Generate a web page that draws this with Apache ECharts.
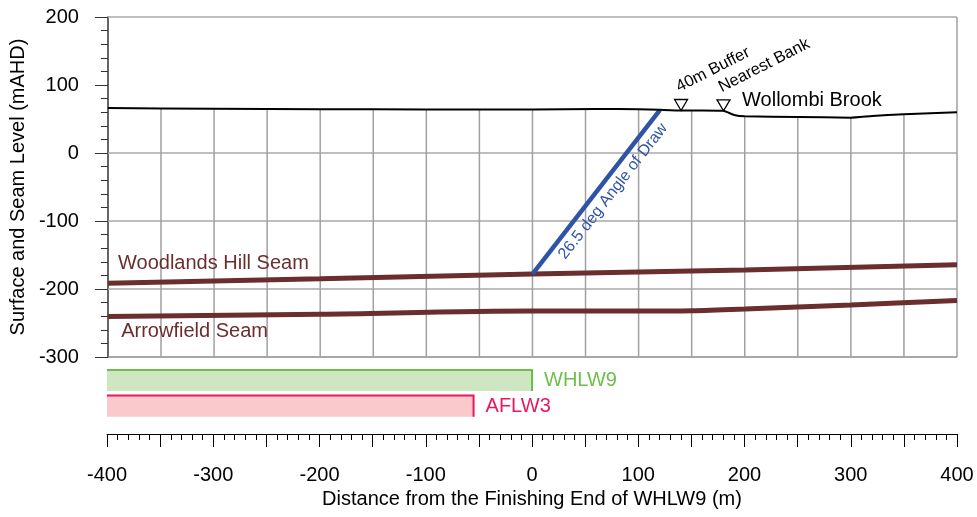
<!DOCTYPE html>
<html><head><meta charset="utf-8">
<script src="https://cdn.jsdelivr.net/npm/echarts@6/dist/echarts.min.js"></script>
<style>html,body{margin:0;padding:0;background:#fff}#c{width:977px;height:517px}</style>
</head><body><div id="c"></div>
<script>
// ---- data ----
const surfaceX = [-400, -300, -200, -100, 0, 60, 100, 120, 140, 160, 180, 190, 200, 250, 300, 320, 350, 400];
const surfaceY = [66, 65, 64.5, 64, 64, 64.8, 64.5, 63.5, 62.5, 62.5, 62, 56, 54, 53, 52, 54.5, 57, 60];
const woodlandsX = [-400, -200, 0, 200, 400];
const woodlandsY = [-191.5, -185, -178, -172, -164.5];
const arrowfieldX = [-400, -200, 0, 100, 150, 200, 300, 400];
const arrowfieldY = [-240.5, -237, -232.5, -232.5, -232, -229.5, -223.5, -217];
const drawLineX = [0, 120];
const drawLineY = [-178, 63];
const markerX = [140, 180];
const markerY = [62.5, 62];
const markerNames = ['40m Buffer', 'Nearest Bank'];
const panelNames = ['WHLW9', 'AFLW3'];
const panelStart = [-400, -400];
const panelEnd = [0, -55];
const gridLinesY = [200, 0, -100, -200, -300];
const gridLinesX = [-350, -300, -250, -200, -150, -100, -50, 0, 50, 100, 150, 200, 250, 300, 350];
const annoText = ['Woodlands Hill Seam', 'Arrowfield Seam', 'Wollombi Brook'];
const annoX = [-390.5, -387.5, 197.5];
const annoY = [-162, -263, 76.5];
const drawLabel = '26.5 deg Angle of Draw';

// ---- helpers ----
const zip = (a, b) => a.map((v, i) => [v, b[i]]);
function surfaceAt(x) {
  for (let i = 0; i < surfaceX.length - 1; i++) {
    if (x >= surfaceX[i] && x <= surfaceX[i + 1]) {
      const t = (x - surfaceX[i]) / (surfaceX[i + 1] - surfaceX[i]);
      return surfaceY[i] + t * (surfaceY[i + 1] - surfaceY[i]);
    }
  }
  return surfaceY[surfaceY.length - 1];
}
const FONT = "'Liberation Sans', Arial, sans-serif";
const SEAM = '#6b2e2e';
const BLUE = '#2f54a5';
const panelStroke = ['#6cbf4a', '#e8185e'];
const panelFill = ['#cfe6c3', '#f9c9cc'];

const chart = echarts.init(document.getElementById('c'), null, {renderer: 'canvas'});
const option = {
  animation: false,
  backgroundColor: '#fff',
  grid: [
    {left: 107, top: 17, width: 850, height: 340},
    {left: 107, top: 367.6, width: 850, height: 66.4}
  ],
  xAxis: [
    {gridIndex: 0, type: 'value', min: -400, max: 400, show: false, axisLine: {onZero: false}},
    {gridIndex: 1, type: 'value', min: -400, max: 400, interval: 50, position: 'bottom',
      axisLine: {show: true, onZero: false, lineStyle: {color: '#000', width: 1}},
      axisTick: {show: true, length: 13, lineStyle: {color: '#000', width: 1}},
      minorTick: {show: true, splitNumber: 5, length: 6, lineStyle: {color: '#000', width: 1}},
      splitLine: {show: false},
      axisLabel: {margin: 31, fontSize: 20, color: '#000', fontFamily: FONT,
        formatter: v => (v % 100 === 0 ? String(v) : '')},
      name: 'Distance from the Finishing End of WHLW9 (m)', nameLocation: 'middle', nameGap: 55,
      nameTextStyle: {fontSize: 20, color: '#000', fontFamily: FONT}
    }
  ],
  yAxis: [
    {gridIndex: 0, type: 'value', min: -300, max: 200, interval: 100,
      axisLine: {show: true, onZero: false, lineStyle: {color: '#333', width: 1.5}},
      axisTick: {show: true, length: 13, lineStyle: {color: '#333', width: 1}},
      minorTick: {show: true, splitNumber: 5, length: 7, lineStyle: {color: '#333', width: 1}},
      splitLine: {show: false},
      axisLabel: {margin: 29, fontSize: 20, color: '#000', fontFamily: FONT},
      name: 'Surface and Seam Level (mAHD)', nameLocation: 'middle', nameGap: 78,
      nameTextStyle: {fontSize: 20, color: '#000', fontFamily: FONT}
    },
    {gridIndex: 1, type: 'value', min: -0.5, max: 2.084, inverse: true, show: false, axisLine: {onZero: false}}
  ],
  series: [
    { // horizontal grid lines
      type: 'custom', xAxisIndex: 0, yAxisIndex: 0, z: 1, silent: true,
      data: gridLinesY.map(y => [y]),
      renderItem(params, api) {
        const y = api.value(0);
        const a = api.coord([-400, y]), b = api.coord([400, y]);
        return {type: 'line', shape: {x1: a[0], y1: a[1], x2: b[0], y2: b[1]},
          style: {stroke: y === -300 ? '#8a8a8a' : '#a8a8a8', lineWidth: 1.5}};
      }
    },
    { // vertical grid lines from surface down, plus right border
      type: 'custom', xAxisIndex: 0, yAxisIndex: 0, z: 1, silent: true,
      data: gridLinesX.map(x => [x, surfaceAt(x)]).concat([[400, 200]]),
      renderItem(params, api) {
        const a = api.coord([api.value(0), api.value(1)]), b = api.coord([api.value(0), -300]);
        return {type: 'line', shape: {x1: a[0], y1: a[1], x2: b[0], y2: b[1]},
          style: {stroke: '#a0a0a0', lineWidth: 1.5}};
      }
    },
    {type: 'line', name: 'Surface', data: zip(surfaceX, surfaceY), showSymbol: false, smooth: 0.12,
      lineStyle: {color: '#000', width: 2}, z: 4, silent: true},
    {type: 'line', name: 'Woodlands Hill Seam', data: zip(woodlandsX, woodlandsY), showSymbol: false,
      lineStyle: {color: SEAM, width: 5}, z: 3, silent: true},
    {type: 'line', name: 'Arrowfield Seam', data: zip(arrowfieldX, arrowfieldY), showSymbol: false, smooth: 0.3,
      lineStyle: {color: SEAM, width: 5}, z: 3, silent: true},
    {type: 'line', name: 'Angle of Draw', data: zip(drawLineX, drawLineY), showSymbol: false,
      lineStyle: {color: BLUE, width: 4.5}, z: 3, silent: true},
    { // angle of draw label
      type: 'custom', xAxisIndex: 0, yAxisIndex: 0, z: 5, silent: true,
      data: [[drawLineX[0], drawLineY[0], drawLineX[1], drawLineY[1]]],
      renderItem(params, api) {
        const p0 = api.coord([api.value(0), api.value(1)]);
        const p1 = api.coord([api.value(2), api.value(3)]);
        const dx = p1[0] - p0[0], dy = p0[1] - p1[1];
        const len = Math.hypot(dx, dy);
        const ux = dx / len, uy = -dy / len;
        const px = -uy, py = ux;
        const mx = (p0[0] + p1[0]) / 2, my = (p0[1] + p1[1]) / 2;
        const cx = mx + 13 * px + 11 * ux, cy = my + 13 * py + 11 * uy;
        return {type: 'text', x: cx, y: cy, rotation: Math.atan2(dy, dx),
          style: {text: drawLabel, x: 0, y: 0, align: 'center', verticalAlign: 'middle',
            fill: BLUE, font: '16px ' + FONT}};
      }
    },
    { // markers with rotated labels
      type: 'custom', xAxisIndex: 0, yAxisIndex: 0, z: 6, silent: true,
      data: zip(markerX, markerY),
      renderItem(params, api) {
        const p = api.coord([api.value(0), api.value(1)]);
        return {type: 'group', children: [
          {type: 'polygon', shape: {points: [[p[0] - 6.5, p[1] - 11], [p[0] + 6.5, p[1] - 11], [p[0], p[1]]]},
            style: {fill: '#fff', stroke: '#000', lineWidth: 1.3}},
          {type: 'text', x: p[0], y: p[1] - 15, rotation: 27 * Math.PI / 180,
            style: {text: markerNames[params.dataIndex], x: 0, y: 0, align: 'left', verticalAlign: 'bottom',
              fill: '#000', font: '16.5px ' + FONT}}
        ]};
      }
    },
    { // text annotations
      type: 'custom', xAxisIndex: 0, yAxisIndex: 0, z: 6, silent: true,
      data: zip(annoX, annoY),
      renderItem(params, api) {
        const p = api.coord([api.value(0), api.value(1)]);
        const i = params.dataIndex;
        return {type: 'text', x: p[0], y: p[1],
          style: {text: annoText[i], x: 0, y: 0, align: 'left', verticalAlign: 'middle',
            fill: i < 2 ? SEAM : '#000', font: '20px ' + FONT}};
      }
    },
    { // panels below the section
      type: 'custom', xAxisIndex: 1, yAxisIndex: 1, z: 3, silent: true,
      data: panelNames.map((n, i) => [panelStart[i], panelEnd[i], i]),
      renderItem(params, api) {
        const i = params.dataIndex;
        const s = api.coord([api.value(0), api.value(2)]);
        const e = api.coord([api.value(1), api.value(2)]);
        const h = api.size([0, 1])[1] * 0.82;
        const top = s[1] - h / 2, bottom = s[1] + h / 2;
        return {type: 'group', children: [
          {type: 'rect', shape: {x: s[0], y: top, width: e[0] - s[0], height: h}, style: {fill: panelFill[i]}},
          {type: 'polyline', shape: {points: [[s[0], top], [e[0], top], [e[0], bottom]]},
            style: {stroke: panelStroke[i], lineWidth: 2, fill: null}},
          {type: 'text', x: e[0] + 12, y: s[1],
            style: {text: panelNames[i], x: 0, y: 0, align: 'left', verticalAlign: 'middle',
              fill: panelStroke[i], font: '20px ' + FONT}}
        ]};
      }
    }
  ]
};
chart.setOption(option);
</script>
</body></html>
